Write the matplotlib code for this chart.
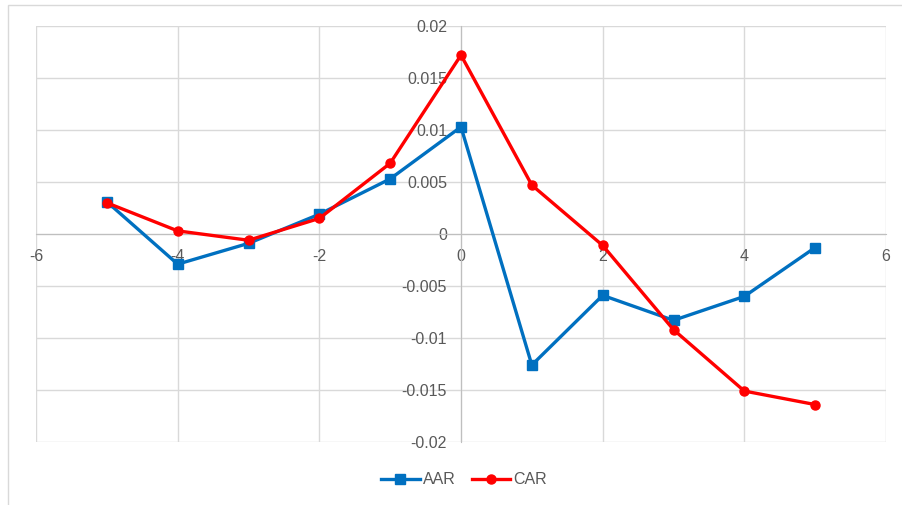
import matplotlib
matplotlib.use("Agg")
import matplotlib.pyplot as plt
from matplotlib.lines import Line2D
from matplotlib.patches import Rectangle
from matplotlib.ticker import FuncFormatter, MultipleLocator

days = [-5, -4, -3, -2, -1, 0, 1, 2, 3, 4, 5]
aar = [0.0031, -0.0029, -0.0009, 0.0019, 0.0053, 0.0103, -0.0126, -0.0059, -0.0083, -0.0060, -0.0013]
car = [0.0030, 0.0003, -0.0006, 0.0015, 0.0068, 0.0172, 0.0047, -0.0011, -0.0092, -0.0151, -0.0164]

BLUE = "#0070c0"
RED = "#ff0000"
GRID = "#d9d9d9"
AXIS = "#bfbfbf"
TXT = "#595959"

plt.rcParams["font.family"] = ["Liberation Sans", "DejaVu Sans"]
plt.rcParams["axes.unicode_minus"] = False

fig = plt.figure(figsize=(9.03, 5.05), dpi=100)
ax = fig.add_axes([36 / 903, 63 / 505, 850 / 903, 416 / 505])

# chart border (left + top visible)
fig.patches.append(Rectangle((8 / 903, -0.02), 1.0, 1.0 - 5 / 505 + 0.02,
                             transform=fig.transFigure, fill=False,
                             edgecolor=GRID, lw=1.0))

ax.plot(days, aar, color=BLUE, lw=2.4, marker="s", ms=6.5, zorder=4)
ax.plot(days, car, color=RED, lw=2.4, marker="o", ms=6.5, zorder=5)

ax.set_xlim(-6, 6)
ax.set_ylim(-0.02, 0.02)
ax.xaxis.set_major_locator(MultipleLocator(2))
ax.yaxis.set_major_locator(MultipleLocator(0.005))
ax.yaxis.set_major_formatter(FuncFormatter(lambda v, p: "%g" % round(v, 4)))
ax.grid(True, color=GRID, lw=1.0)
ax.set_axisbelow(True)

for s in ["top", "right"]:
    ax.spines[s].set_visible(False)
ax.spines["left"].set_position(("data", 0))
ax.spines["bottom"].set_position(("data", 0))
ax.spines["left"].set_color(AXIS)
ax.spines["bottom"].set_color(AXIS)
ax.tick_params(length=0, labelsize=11.5, colors=TXT)
ax.tick_params(axis="x", pad=11)
ax.tick_params(axis="y", pad=10)

handles = [Line2D([], [], color=BLUE, lw=2.4, marker="s", ms=6.5),
           Line2D([], [], color=RED, lw=2.4, marker="o", ms=6.5)]
fig.legend(handles, ["AAR", "CAR"], loc="center", bbox_to_anchor=(464 / 903, 25 / 505),
           ncol=2, frameon=False, fontsize=11.5, labelcolor=TXT,
           handlelength=2.4, handletextpad=0.2, columnspacing=1.0)

fig.savefig("out.png", dpi=100)
